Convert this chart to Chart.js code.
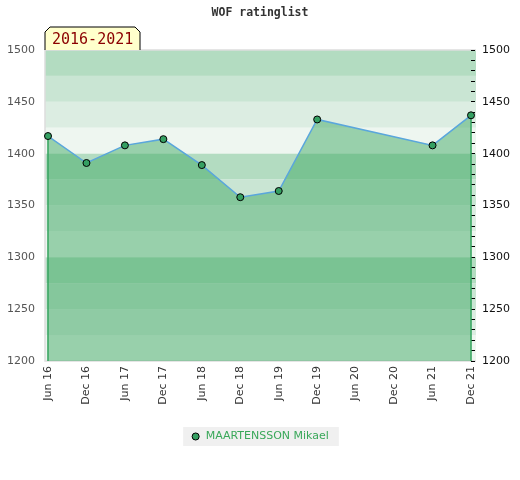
<!DOCTYPE html>
<html lang="en">
<head>
    <meta charset="UTF-8">
    <title>WOF ratinglist</title>
    <script src="https://cdn.jsdelivr.net/npm/chart.js"></script>
    <style>
        html, body { margin: 0; padding: 0; background: #fff; }
        #wrap { width: 520px; height: 480px; }
    </style>
</head>
<body>
    <div id="wrap"><canvas id="rating-chart" width="520" height="480"></canvas></div>

    <script>
        // axis labels (every half year) and the rated periods
        const monthLabels = ['Jun 16', 'Dec 16', 'Jun 17', 'Dec 17', 'Jun 18', 'Dec 18',
                             'Jun 19', 'Dec 19', 'Jun 20', 'Dec 20', 'Jun 21', 'Dec 21'];
        const ratedPeriods = ['Jun 16', 'Dec 16', 'Jun 17', 'Dec 17', 'Jun 18', 'Dec 18',
                              'Jun 19', 'Dec 19', 'Jun 21', 'Dec 21'];
        const ratings = [1417, 1391, 1408, 1414, 1389, 1358, 1364, 1433, 1408, 1437];
        const playerName = 'MAARTENSSON Mikael';
        const periodText = '2016-2021';
        const ratingMin = 1200;
        const ratingMax = 1500;

        const bandColors = ['#b3dcc1', '#c9e5d3', '#dcede2', '#eef6f0'];

        // striped background + light border round the plot
        const bandsPlugin = {
            id: 'bands',
            beforeDraw(chart) {
                const ctx = chart.ctx;
                const area = chart.chartArea;
                const y = chart.scales.y;
                const x0 = area.left - 3, x1 = area.right + 5;
                ctx.save();
                let i = 0;
                for (let v = ratingMax; v > ratingMin; v -= 25) {
                    const top = y.getPixelForValue(v);
                    const bot = y.getPixelForValue(v - 25);
                    ctx.fillStyle = bandColors[i % 4];
                    ctx.fillRect(x0, top, x1 - x0, bot - top);
                    i++;
                }
                ctx.strokeStyle = '#dddddd';
                ctx.lineWidth = 1.5;
                ctx.beginPath();
                ctx.moveTo(x1, area.top);
                ctx.lineTo(x0, area.top);
                ctx.lineTo(x0, area.bottom);
                ctx.lineTo(x1, area.bottom);
                ctx.stroke();

                // grey box behind the legend item
                const hb = chart.legend && chart.legend.legendHitBoxes && chart.legend.legendHitBoxes[0];
                if (hb) {
                    ctx.fillStyle = '#f0f0f0';
                    ctx.fillRect(hb.left - 8, hb.top - 4, hb.width + 18, hb.height + 8);
                }
                ctx.restore();
            }
        };

        // green edges of the filled area
        const edgesPlugin = {
            id: 'edges',
            beforeDatasetsDraw(chart) {
                const pts = chart.getDatasetMeta(0).data;
                if (!pts.length) return;
                const ctx = chart.ctx;
                ctx.save();
                ctx.strokeStyle = '#2ea05a';
                ctx.lineWidth = 1.5;
                [pts[0], pts[pts.length - 1]].forEach(p => {
                    ctx.beginPath();
                    ctx.moveTo(p.x, p.y);
                    ctx.lineTo(p.x, chart.chartArea.bottom);
                    ctx.stroke();
                });
                ctx.restore();
            }
        };

        // title and the yellow period tag
        const headerPlugin = {
            id: 'header',
            afterDraw(chart) {
                const ctx = chart.ctx;
                const area = chart.chartArea;
                ctx.save();
                ctx.fillStyle = '#333';
                ctx.font = 'bold 11.5px "DejaVu Sans Mono"';
                ctx.textAlign = 'center';
                ctx.textBaseline = 'middle';
                ctx.fillText('WOF ratinglist', chart.width / 2, 13);

                const l = area.left - 3, r = l + 95, b = area.top, t = b - 23;
                ctx.beginPath();
                ctx.moveTo(l, b);
                ctx.lineTo(l, t + 5);
                ctx.lineTo(l + 5, t);
                ctx.lineTo(r - 5, t);
                ctx.lineTo(r, t + 5);
                ctx.lineTo(r, b);
                ctx.fillStyle = '#ffffcc';
                ctx.fill();
                ctx.strokeStyle = '#000';
                ctx.lineWidth = 1;
                ctx.stroke();
                ctx.fillStyle = '#8b0000';
                ctx.font = '15px "DejaVu Sans Mono"';
                ctx.textAlign = 'left';
                ctx.fillText(periodText, l + 7, t + 13);
                ctx.restore();
            }
        };

        const ctx = document.getElementById('rating-chart').getContext('2d');
        new Chart(ctx, {
            type: 'line',
            data: {
                labels: monthLabels,
                datasets: [{
                    label: playerName,
                    data: ratedPeriods.map((p, i) => ({ x: p, y: ratings[i] })),
                    borderColor: '#5aa6dc',
                    borderWidth: 1.5,
                    backgroundColor: 'rgba(66, 170, 102, 0.5)',
                    fill: 'start',
                    tension: 0,
                    pointRadius: 3.5,
                    pointHoverRadius: 3.5,
                    pointBackgroundColor: '#35a062',
                    pointBorderColor: '#000',
                    pointBorderWidth: 1
                }]
            },
            options: {
                responsive: false,
                animation: false,
                layout: { padding: { top: 50, bottom: 28, left: 0, right: 0 } },
                plugins: {
                    title: { display: false },
                    tooltip: { enabled: false },
                    legend: {
                        position: 'bottom',
                        labels: {
                            usePointStyle: true,
                            pointStyle: 'circle',
                            boxWidth: 9,
                            boxHeight: 5,
                            color: '#3aa85a',
                            padding: 8,
                            font: { family: 'DejaVu Sans', size: 11 }
                        }
                    }
                },
                scales: {
                    x: {
                        type: 'category',
                        offset: false,
                        grid: { display: false, drawTicks: false },
                        border: { display: false },
                        ticks: {
                            autoSkip: false,
                            minRotation: 90,
                            maxRotation: 90,
                            padding: 5,
                            color: '#333',
                            font: { family: 'DejaVu Sans', size: 11 }
                        },
                        afterFit(scale) { scale.height = 62; }
                    },
                    y: {
                        position: 'left',
                        min: ratingMin,
                        max: ratingMax,
                        grid: { display: false, drawTicks: false },
                        border: { display: false },
                        ticks: {
                            stepSize: 50,
                            padding: 13,
                            color: '#555',
                            font: { family: 'DejaVu Sans', size: 11 },
                            callback: v => String(v)
                        },
                        afterFit(scale) { scale.width = 48; }
                    },
                    y2: {
                        position: 'right',
                        min: ratingMin,
                        max: ratingMax,
                        grid: {
                            display: true,
                            drawOnChartArea: false,
                            drawTicks: true,
                            tickLength: 4,
                            tickColor: '#000',
                            tickWidth: 1
                        },
                        border: { display: false },
                        ticks: {
                            stepSize: 10,
                            autoSkip: false,
                            padding: 7,
                            color: '#111',
                            font: { family: 'DejaVu Sans', size: 11 },
                            callback: v => (v % 50 === 0 ? String(v) : '')
                        },
                        afterFit(scale) { scale.width = 49; }
                    }
                }
            },
            plugins: [bandsPlugin, edgesPlugin, headerPlugin]
        });
    </script>
</body>
</html>
